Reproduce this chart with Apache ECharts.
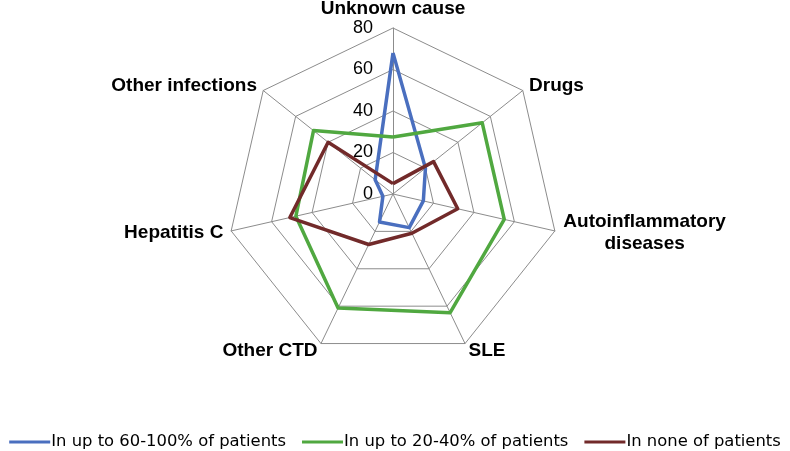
<!DOCTYPE html>
<html><head><meta charset="utf-8">
<script src="https://cdn.jsdelivr.net/npm/echarts@6/dist/echarts.min.js"></script>
<style>html,body{margin:0;padding:0;background:#fff}#c{width:790px;height:451px}</style>
</head><body><div id="c"></div>
<script>
// Categories listed clockwise from the top, as in the reference
const categories = ['Unknown cause', 'Drugs', 'Autoinflammatory\ndiseases', 'SLE', 'Other CTD', 'Hepatitis C', 'Other infections'];
const seriesNames = ['In up to 60-100% of patients', 'In up to 20-40% of patients', 'In none of patients'];
const high = [68, 20, 15, 18, 15, 5, 11];
const mid = [27.5, 55, 55, 63.5, 61, 48, 49];
const none = [5, 25, 32, 21, 27, 51, 40];
const tickValues = [0, 20, 40, 60, 80];
const colors = ['#4a6fbf', '#50a840', '#722a2a'];

// ECharts radar runs counter-clockwise; reorder so the picture runs clockwise
const order = [0].concat(categories.map((_, i) => i).slice(1).reverse());
const reorder = arr => order.map(i => arr[i]);

const nameFont = 'Liberation Sans, Arial, sans-serif';
const chart = echarts.init(document.getElementById('c'));
chart.setOption({
  animation: false,
  backgroundColor: '#fff',
  legend: {
    top: 429, left: 'center',
    data: seriesNames,
    icon: 'rect', itemWidth: 41, itemHeight: 3, itemGap: 16,
    textStyle: { fontFamily: 'DejaVu Sans, sans-serif', fontSize: 16.4, color: '#000', padding: [0,0,0,-4] }
  },
  grid: { left: 393, top: 28, width: 1, height: 166 },
  xAxis: { type: 'value', show: false },
  yAxis: {
    type: 'value', min: tickValues[0], max: tickValues[tickValues.length-1], interval: 20,
    axisLine: { show: false }, axisTick: { show: false }, splitLine: { show: false },
    axisLabel: { fontFamily: nameFont, fontSize: 18, color: '#000', margin: 20 }
  },
  radar: {
    center: [393, 194], radius: 166, shape: 'polygon', splitNumber: 4, startAngle: 90,
    indicator: reorder(categories).map(n => ({ name: n, min: 0, max: 80 })),
    axisName: {
      color: '#000', fontWeight: 'bold', fontSize: 19, fontFamily: nameFont, lineHeight: 22,
      formatter: function (name) {
        if (name.indexOf('\n') >= 0) return name.split('\n').map(s => '{c|' + s + '}').join('\n');
        return name;
      },
      rich: { c: { width: 164, align: 'center', fontWeight: 'bold', fontSize: 19, fontFamily: nameFont, color: '#000', lineHeight: 22 } }
    },
    nameGap: 8,
    axisLine: { lineStyle: { color: '#8c8c8c', width: 1 } },
    splitLine: { lineStyle: { color: '#8c8c8c', width: 1 } },
    splitArea: { show: false },
    axisLabel: { show: false }
  },
  series: [{
    type: 'radar', symbol: 'none',
    data: [
      { name: seriesNames[0], value: reorder(high), lineStyle: { color: colors[0], width: 3.5 }, itemStyle: { color: colors[0] } },
      { name: seriesNames[1], value: reorder(mid), lineStyle: { color: colors[1], width: 3.5 }, itemStyle: { color: colors[1] } },
      { name: seriesNames[2], value: reorder(none), lineStyle: { color: colors[2], width: 3.5 }, itemStyle: { color: colors[2] } }
    ]
  }]
});
</script></body></html>
